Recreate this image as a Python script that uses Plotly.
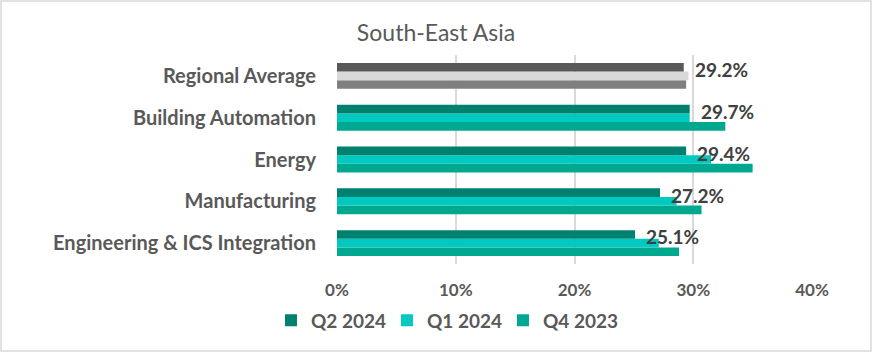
import plotly.graph_objects as go

# Categories listed bottom-to-top (Regional Average last so legend swatch uses teal)
categories = ["Engineering & ICS Integration", "Manufacturing", "Energy",
              "Building Automation", "Regional Average"]
q2_2024 = [25.1, 27.2, 29.4, 29.7, 29.2]
q1_2024 = [27.1, 28.6, 31.5, 29.7, 29.6]
q4_2023 = [28.8, 30.7, 35.0, 32.7, 29.4]
labels = ["25.1%", "27.2%", "29.4%", "29.7%", "29.2%"]
x_ticks = [0, 10, 20, 30, 40]
x_tick_text = ["0%", "10%", "20%", "30%", "40%"]

col_q2 = ["#00816F"] * 4 + ["#595959"]
col_q1 = ["#00C9BF"] * 4 + ["#D9D9D9"]
col_q4 = ["#00A88F"] * 4 + ["#7F7F7F"]

FONT = "Lato"

fig = go.Figure()
fig.add_trace(go.Bar(y=categories, x=q4_2023, orientation="h", name="Q4 2023",
                     marker=dict(color=col_q4, line=dict(width=0))))
fig.add_trace(go.Bar(y=categories, x=q1_2024, orientation="h", name="Q1 2024",
                     marker=dict(color=col_q1, line=dict(width=0))))
fig.add_trace(go.Bar(y=categories, x=q2_2024, orientation="h", name="Q2 2024",
                     marker=dict(color=col_q2, line=dict(width=0))))

for i, (v, t) in enumerate(zip(q2_2024, labels)):
    fig.add_annotation(x=v, y=i + 0.15, text="<b>" + t + "</b>", showarrow=False,
                       xanchor="left", yanchor="middle", xshift=9,
                       font=dict(family=FONT, size=19, color="#404040"))

fig.update_layout(
    width=872, height=352,
    margin=dict(l=337, r=60, t=55, b=88),
    paper_bgcolor="white", plot_bgcolor="white",
    barmode="group", bargap=0.38, bargroupgap=0,
    title=dict(text="South-East Asia", x=0.5, xref="container", xanchor="center",
               y=1 - 33 / 352, yref="container", yanchor="middle",
               font=dict(family=FONT, size=23, color="#595959")),
    xaxis=dict(range=[0, 40], tickvals=x_ticks, ticktext=x_tick_text,
               showgrid=True, gridcolor="#D9D9D9", gridwidth=1.5,
               zeroline=False, showline=False, ticks="",
               ticklabelstandoff=14,
               tickfont=dict(family=FONT, size=17, color="#595959", weight="bold")),
    yaxis=dict(categoryorder="array", categoryarray=categories,
               showgrid=False, zeroline=False, showline=False, ticks="",
               ticklabelstandoff=20,
               tickfont=dict(family=FONT, size=20, color="#595959", weight="bold")),
    legend=dict(orientation="h", traceorder="reversed", x=-0.139, xanchor="left",
                y=-0.27, yanchor="middle",
                font=dict(family=FONT, size=19, color="#595959", weight="bold"),
                itemwidth=30, entrywidth=71, entrywidthmode="pixels"),
    showlegend=True,
)

fig.add_shape(type="rect", xref="paper", yref="paper",
              x0=-336 / 475, x1=1 + 59 / 475, y0=-87 / 209, y1=1 + 54 / 209,
              line=dict(color="#D9D9D9", width=1.5), layer="below")

fig.write_html("out.html")
